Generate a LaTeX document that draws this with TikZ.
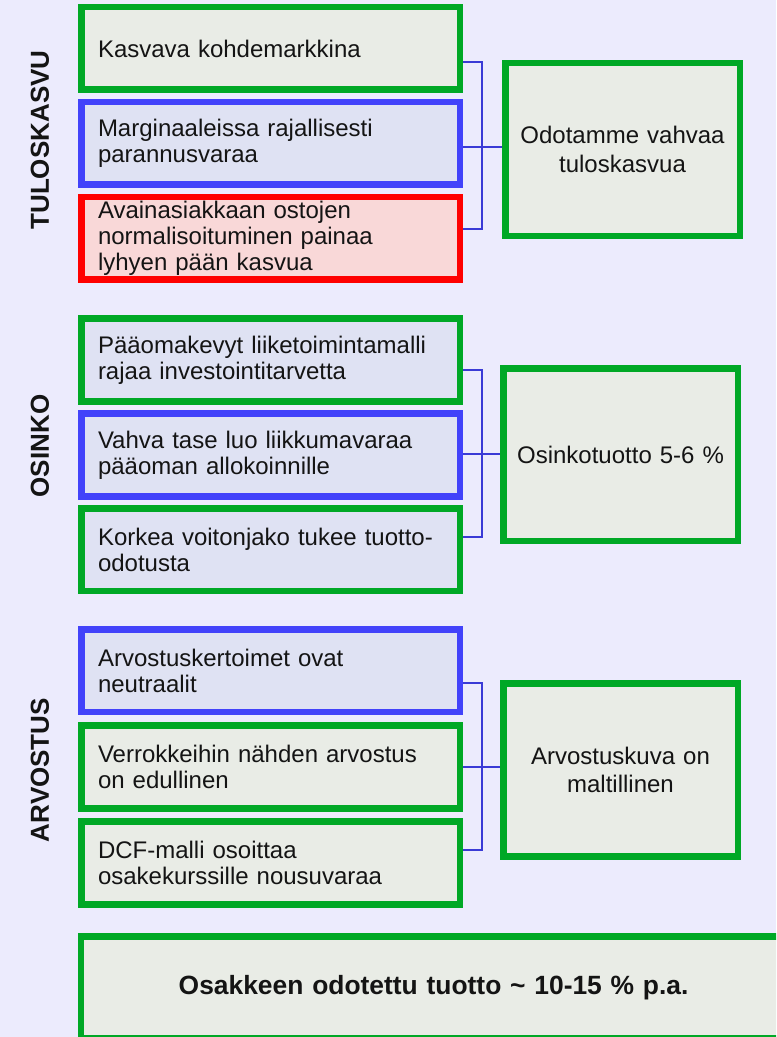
\documentclass[tikz,border=0pt]{standalone}
\usepackage{fontspec}
\setmainfont{Liberation Sans}
\usetikzlibrary{calc}

\definecolor{bgpage}{RGB}{236,235,253}
\definecolor{gline}{RGB}{0,168,38}
\definecolor{gfill}{RGB}{233,236,230}
\definecolor{bline}{RGB}{66,66,250}
\definecolor{bfill}{RGB}{223,226,243}
\definecolor{rline}{RGB}{255,0,0}
\definecolor{rfill}{RGB}{249,216,216}
\definecolor{linkcol}{RGB}{58,58,214}
\definecolor{ink}{RGB}{20,20,20}

\begin{document}
\begin{tikzpicture}[x=0.75pt,y=-0.75pt]
			\tikzset{reason/.style = {shape=rectangle, line width=4.9pt,
					minimum width=283.9pt, minimum height=61.9pt,
					text width=258.75pt, inner xsep=12.56pt, inner ysep=0pt,
					align=left, text=ink, font=\fontsize{18pt}{19.5pt}\selectfont}}
			\tikzset{plus/.style = {reason, draw=gline, fill=gfill}}
			\tikzset{neutral/.style = {reason, draw=bline, fill=bfill}}
			\tikzset{minus/.style = {reason, draw=rline, fill=rfill}}
			\tikzset{outcome/.style = {shape=rectangle, draw=gline, fill=gfill,
					line width=4.9pt, minimum width=175.9pt, minimum height=129.6pt,
					text width=165pt, inner sep=0pt, align=center, text=ink,
					font=\fontsize{18pt}{21.4pt}\selectfont}}
			\tikzset{theme/.style = {rotate=90, text=ink, inner sep=0pt,
					font=\fontsize{19.5pt}{20pt}\selectfont\bfseries}}
			\tikzset{link/.style = {draw=linkcol, line width=1.5pt}}
			
			\useasboundingbox (0,0) rectangle (776,1037);
			\fill[bgpage] (0,0) rectangle (776,1037);
			\clip (0,0) rectangle (776,1037);
			
			% themes
			\node[theme] (lt) at (40,140) {TULOSKASVU};
			\node[theme] (lo) at (40,446) {OSINKO};
			\node[theme] (la) at (40,770) {ARVOSTUS};
			
			% reasons
			\node[plus] (t1) at (270.5,48.5) {Kasvava kohdemarkkina};
			\node[neutral] (t2) at (270.5,143.5) {Marginaaleissa rajallisesti\\parannusvaraa};
			\node[minus] (t3) at (270.5,238.5) {Avainasiakkaan ostojen\\normalisoituminen painaa\\lyhyen pään kasvua};
			
			\node[plus, fill=bfill] (o1) at (270.5,360) {Pääomakevyt liiketoimintamalli\\rajaa investointitarvetta};
			\node[neutral] (o2) at (270.5,455) {Vahva tase luo liikkumavaraa\\pääoman allokoinnille};
			\node[plus, fill=bfill] (o3) at (270.5,549.5) {Korkea voitonjako tukee tuotto-\\odotusta};
			
			\node[neutral] (v1) at (270.5,670.5) {Arvostuskertoimet ovat\\neutraalit};
			\node[plus] (v2) at (270.5,767) {Verrokkeihin nähden arvostus\\on edullinen};
			\node[plus] (v3) at (270.5,863) {DCF-malli osoittaa\\osakekurssille nousuvaraa};
			
			% outcomes
			\node[outcome] (r1) at (622.5,149.6) {Odotamme vahvaa\\tuloskasvua};
			\node[outcome] (r2) at (620.5,454.7) {Osinkotuotto 5-6 \%};
			\node[outcome] (r3) at (620.5,770) {Arvostuskuva on\\maltillinen};
			
			\node[outcome, minimum width=528.6pt, minimum height=76.5pt, text width=500pt,
				font=\fontsize{19.8pt}{22pt}\selectfont\bfseries] (tot) at (433.6,987.25)
				{Osakkeen odotettu tuotto \textasciitilde{} 10-15 \% p.a.};
			
			%edges
			\coordinate (j1) at (482,147);
			\coordinate (j2) at (482,454);
			\coordinate (j3) at (482,767);
			
			\draw[link] ($(t1.east)+(0,13.5)$) -| (j1) |- ($(t3.east)+(0,-9.5)$);
			\draw[link] (t2.east |- j1) -- (r1.west |- j1);
			
			\draw[link] ($(o1.east)+(0,10)$) -| (j2) |- ($(o3.east)+(0,-12.5)$);
			\draw[link] (o2.east |- j2) -- (r2.west |- j2);
			
			\draw[link] ($(v1.east)+(0,12.5)$) -| (j3) |- ($(v3.east)+(0,-13)$);
			\draw[link] (v2.east |- j3) -- (r3.west |- j3);
			
\end{tikzpicture}
\end{document}
